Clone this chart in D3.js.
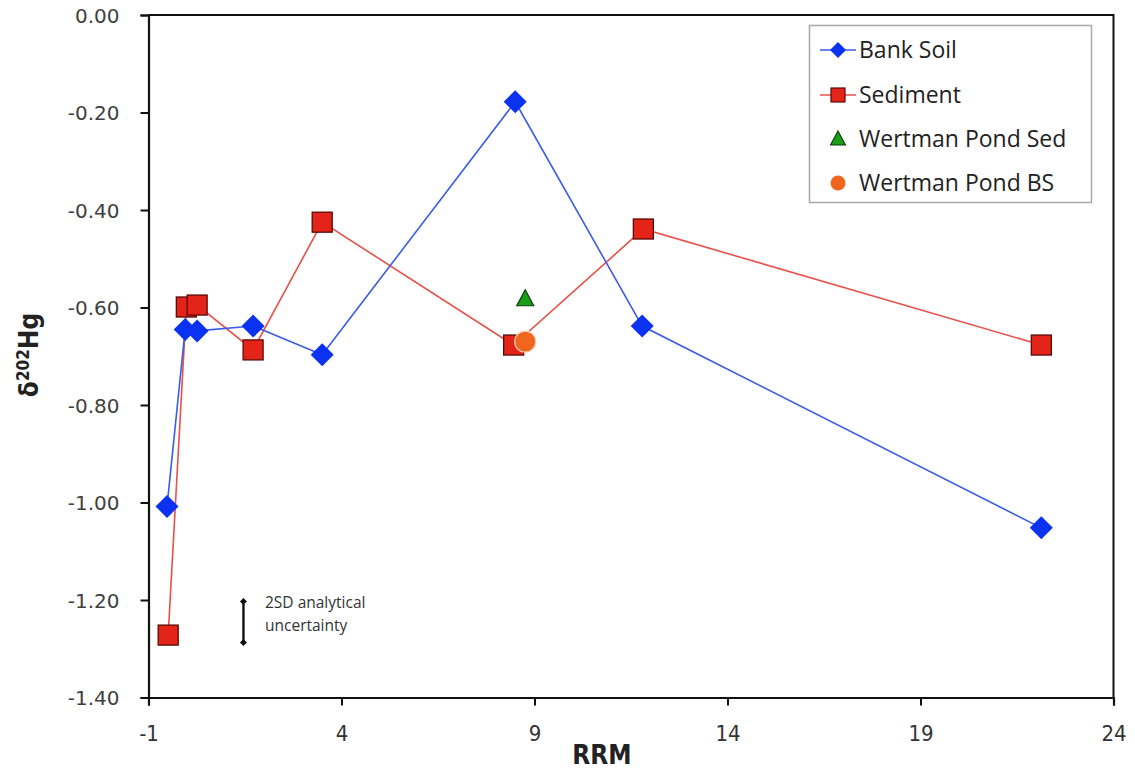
<!DOCTYPE html>
<html>
<head>
<meta charset="utf-8">
<script src="https://cdn.jsdelivr.net/npm/d3@7"></script>
<style>
  body { margin: 0; background: #fff; }
  svg { display: block; }
</style>
</head>
<body>
<svg id="chart" width="1135" height="772"></svg>
<script>
// values
var bankX = [-0.52, -0.05, 0.26, 1.71, 3.50, 8.50, 11.79, 22.13];
var bankY = [-1.008, -0.645, -0.648, -0.638, -0.697, -0.178, -0.638, -1.052];
var sedX = [-0.49, -0.02, 0.26, 1.71, 3.50, 8.46, 11.82, 22.13];
var sedY = [-1.272, -0.599, -0.595, -0.687, -0.425, -0.677, -0.439, -0.677];
var pondSedX = [8.76], pondSedY = [-0.582];
var pondBsX = [8.76], pondBsY = [-0.670];
var errX = 1.46, errY = -1.245, err2sd = 0.042;
var xTicks = [-1, 4, 9, 14, 19, 24];
var yTicks = [0, -0.2, -0.4, -0.6, -0.8, -1.0, -1.2, -1.4];
var legendNames = ["Bank Soil", "Sediment", "Wertman Pond Sed", "Wertman Pond BS"];

var svg = d3.select("#chart");
var x = d3.scaleLinear().domain([-1, 24]).range([148.5, 1113.5]);
var y = d3.scaleLinear().domain([-1.4, 0]).range([697.5, 15]);

function zip(xs, ys) { return xs.map(function(v, i) { return {x: v, y: ys[i]}; }); }
var bank = zip(bankX, bankY), sed = zip(sedX, sedY);

// plot frame (top and right)
svg.append("path")
  .attr("d", "M" + x(-1) + "," + y(0) + "H" + x(24) + "V" + y(-1.4))
  .attr("fill", "none").attr("stroke", "#111").attr("stroke-width", 2);

// axes
var yAxis = svg.append("g").attr("transform", "translate(" + x(-1) + ",0)")
  .call(d3.axisLeft(y).tickValues(yTicks).tickSize(8).tickPadding(21)
    .tickFormat(function(d) { return d.toFixed(2); }));
yAxis.select(".domain").attr("stroke", "#111").attr("stroke-width", 2.2);
yAxis.selectAll(".tick line").attr("stroke", "#111").attr("stroke-width", 2);
yAxis.selectAll("text").attr("font-family", "DejaVu Sans").attr("font-size", 20)
  .attr("fill", "#404040").attr("dy", "0.36em");

var xAxis = svg.append("g").attr("transform", "translate(0," + y(-1.4) + ")")
  .call(d3.axisBottom(x).tickValues(xTicks).tickSize(8).tickPadding(20)
    .tickFormat(function(d) { return String(d); }));
xAxis.select(".domain").attr("stroke", "#111").attr("stroke-width", 2.2);
xAxis.selectAll(".tick line").attr("stroke", "#111").attr("stroke-width", 2);
xAxis.selectAll("text").attr("font-family", "'Liberation Sans Narrow', 'DejaVu Sans Condensed', sans-serif")
  .attr("font-size", 22).attr("fill", "#333");

// axis titles
svg.append("text").attr("x", 602).attr("y", 764).attr("text-anchor", "middle")
  .attr("font-family", "'Liberation Sans Narrow', 'DejaVu Sans Condensed', sans-serif")
  .attr("font-weight", "bold").attr("font-size", 26).attr("fill", "#222").text("RRM");

var yt = svg.append("text").attr("transform", "translate(38,355) rotate(-90)")
  .attr("text-anchor", "middle")
  .attr("font-family", "'Liberation Sans Narrow', 'DejaVu Sans Condensed', sans-serif")
  .attr("font-weight", "bold").attr("font-size", 26).attr("fill", "#222");
yt.append("tspan").text("δ");
yt.append("tspan").attr("font-size", 17).attr("dy", -9).text("202");
yt.append("tspan").attr("dy", 9).text("Hg");

// series lines
var line = d3.line().x(function(d) { return x(d.x); }).y(function(d) { return y(d.y); });
svg.append("path").datum(sed).attr("d", line)
  .attr("fill", "none").attr("stroke", "#e8504a").attr("stroke-width", 1.6);
svg.append("path").datum(bank).attr("d", line)
  .attr("fill", "none").attr("stroke", "#3b5ce6").attr("stroke-width", 1.6);

var diamond = function(s) { return "M0," + (-s) + "L" + s + ",0L0," + s + "L" + (-s) + ",0Z"; };

svg.selectAll("rect.sed").data(sed).enter().append("rect")
  .attr("x", function(d) { return x(d.x) - 10; })
  .attr("y", function(d) { return y(d.y) - 10; })
  .attr("width", 20).attr("height", 20)
  .attr("fill", "#e42418").attr("stroke", "#5a0a06").attr("stroke-width", 1.3);

svg.selectAll("path.bank").data(bank).enter().append("path")
  .attr("d", diamond(11.5))
  .attr("transform", function(d) { return "translate(" + x(d.x) + "," + y(d.y) + ")"; })
  .attr("fill", "#0a32f0");

svg.selectAll("path.psed").data(zip(pondSedX, pondSedY)).enter().append("path")
  .attr("d", "M0,-9L8.5,7L-8.5,7Z")
  .attr("transform", function(d) { return "translate(" + x(d.x) + "," + y(d.y) + ")"; })
  .attr("fill", "#1a9e1a").attr("stroke", "#0c3d0c").attr("stroke-width", 1.2);

svg.selectAll("circle.pbs").data(zip(pondBsX, pondBsY)).enter().append("circle")
  .attr("cx", function(d) { return x(d.x); })
  .attr("cy", function(d) { return y(d.y); })
  .attr("r", 10.5).attr("fill", "#f0661c").attr("stroke", "#fbd3bd").attr("stroke-width", 1.2);

// 2SD error bar
svg.append("line").attr("x1", x(errX)).attr("x2", x(errX))
  .attr("y1", y(errY + err2sd)).attr("y2", y(errY - err2sd))
  .attr("stroke", "#111").attr("stroke-width", 2.4);
[errY + err2sd, errY - err2sd].forEach(function(v) {
  svg.append("path").attr("d", diamond(3.5))
    .attr("transform", "translate(" + x(errX) + "," + y(v) + ")").attr("fill", "#111");
});
var note = svg.append("text").attr("font-family", "Open Sans").attr("font-size", 15.5).attr("fill", "#333");
note.append("tspan").attr("x", 265).attr("y", 608).text("2SD analytical");
note.append("tspan").attr("x", 265).attr("y", 631).text("uncertainty");

// legend
var lg = svg.append("g");
lg.append("rect").attr("x", 809.5).attr("y", 25.5).attr("width", 282).attr("height", 177)
  .attr("fill", "#fff").attr("stroke", "#a8a8a8").attr("stroke-width", 1.5);
var rowY = [50, 95, 139, 183];
legendNames.forEach(function(name, i) {
  var g = lg.append("g").attr("transform", "translate(0," + rowY[i] + ")");
  if (i === 0) {
    g.append("line").attr("x1", 820).attr("x2", 856).attr("stroke", "#3b5ce6").attr("stroke-width", 1.6);
    g.append("path").attr("d", diamond(8)).attr("transform", "translate(838,0)").attr("fill", "#0a32f0");
  } else if (i === 1) {
    g.append("line").attr("x1", 820).attr("x2", 856).attr("stroke", "#e8504a").attr("stroke-width", 1.6);
    g.append("rect").attr("x", 831).attr("y", -7).attr("width", 14).attr("height", 14)
      .attr("fill", "#e42418").attr("stroke", "#5a0a06").attr("stroke-width", 1.2);
  } else if (i === 2) {
    g.append("path").attr("d", "M0,-8L7.5,6L-7.5,6Z").attr("transform", "translate(838,0)")
      .attr("fill", "#1a9e1a").attr("stroke", "#0c3d0c").attr("stroke-width", 1.1);
  } else {
    g.append("circle").attr("cx", 838).attr("cy", 0).attr("r", 7.5).attr("fill", "#f0661c");
  }
  g.append("text").attr("x", 859).attr("dy", "0.36em").attr("font-family", "Open Sans")
    .attr("font-size", 23).attr("fill", "#222").text(name);
});
</script>
</body>
</html>
